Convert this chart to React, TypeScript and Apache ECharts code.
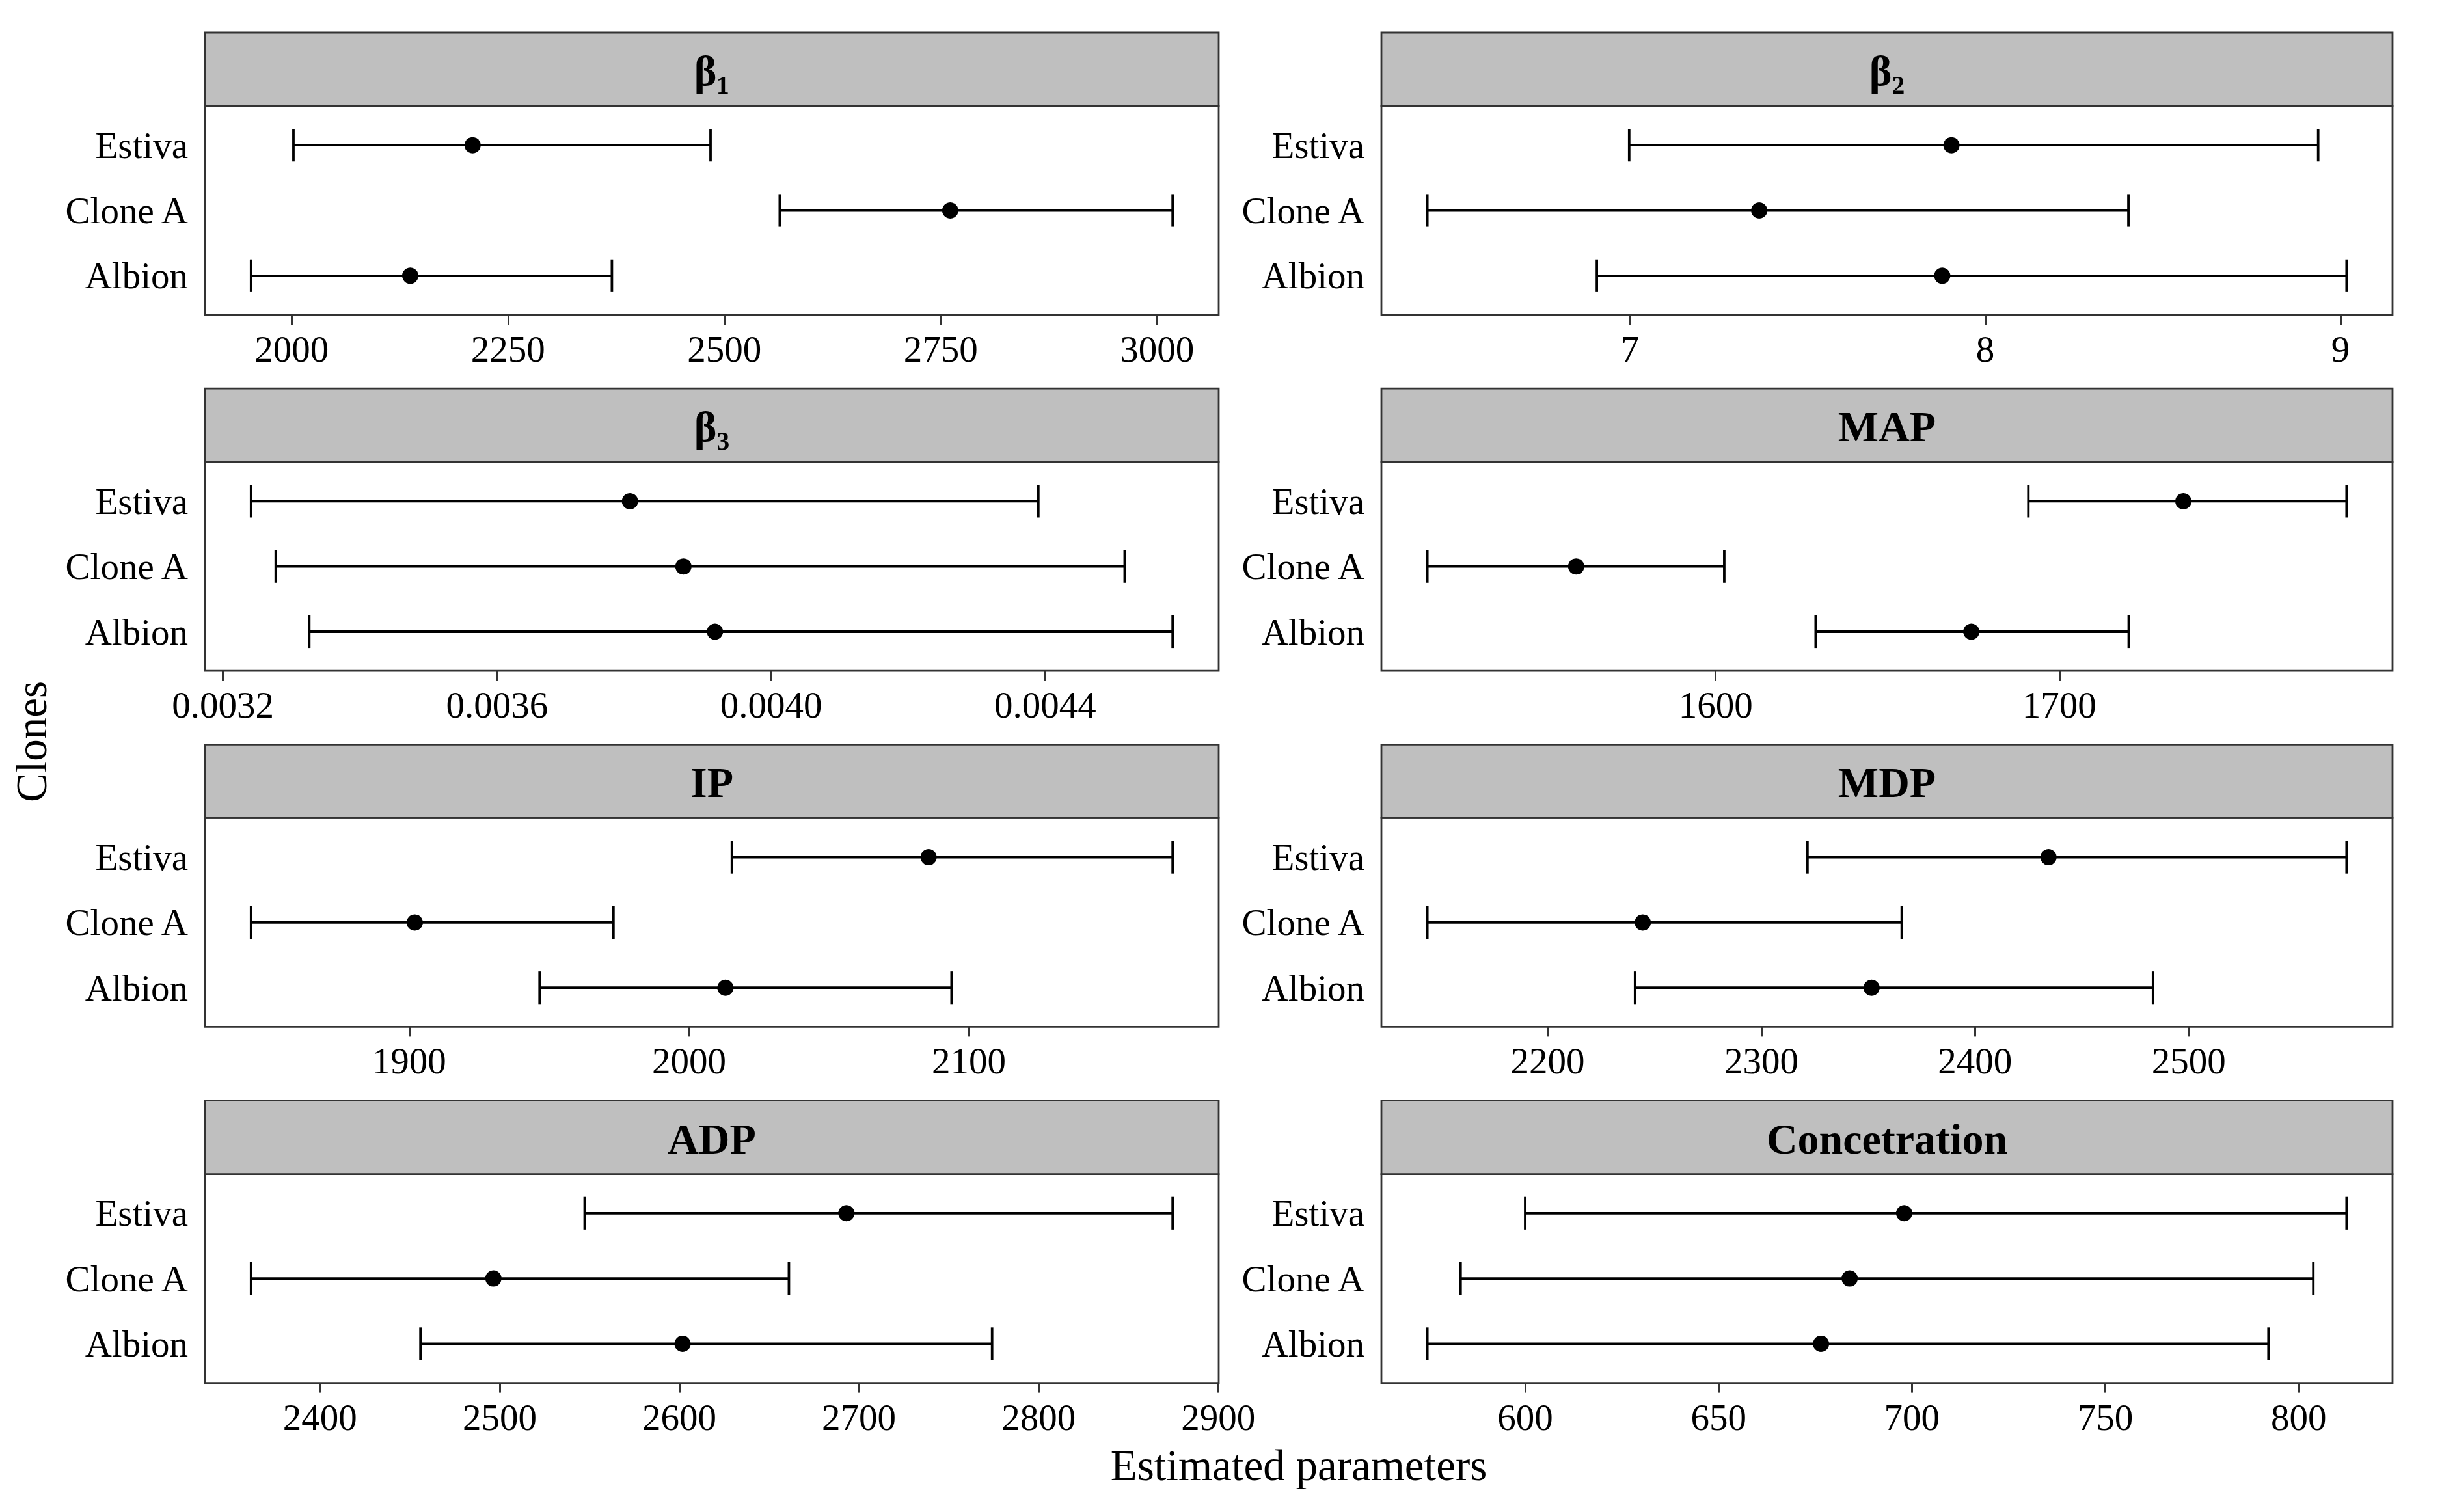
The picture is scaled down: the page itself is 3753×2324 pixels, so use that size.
import React, { useEffect, useRef } from 'react';
import * as echarts from 'echarts';

// ---------- data ----------
const clones = ['Estiva', 'Clone A', 'Albion'];
const panelTitles = ['β₁', 'β₂', 'β₃', 'MAP', 'IP', 'MDP', 'ADP', 'Concetration'];

// order of values: Estiva, Clone A, Albion
const beta1Lower = [2002, 2564, 1953];
const beta1Estimate = [2209, 2761, 2137];
const beta1Upper = [2484, 3018, 2370];

const beta2Lower = [6.998, 6.43, 6.907];
const beta2Estimate = [7.905, 7.364, 7.879];
const beta2Upper = [8.937, 8.403, 9.017];

const beta3Lower = [0.003241, 0.003277, 0.003326];
const beta3Estimate = [0.003794, 0.003872, 0.003918];
const beta3Upper = [0.00439, 0.004516, 0.004586];

const mapLower = [1691.0, 1516.1, 1629.1];
const mapEstimate = [1736.1, 1559.4, 1674.4];
const mapUpper = [1783.6, 1602.5, 1720.2];

const ipLower = [2015.3, 1843.5, 1946.6];
const ipEstimate = [2085.6, 1902, 2013];
const ipUpper = [2172.8, 1973, 2093.8];

const mdpLower = [2321.6, 2143.7, 2240.9];
const mdpEstimate = [2434.4, 2244.5, 2351.6];
const mdpUpper = [2573.9, 2365.7, 2483.3];

const adpLower = [2547.3, 2361.6, 2455.9];
const adpEstimate = [2693, 2496.5, 2601.8];
const adpUpper = [2874.6, 2661, 2774.1];

const concLower = [600, 583.3, 574.7];
const concEstimate = [698, 683.9, 676.5];
const concUpper = [812.4, 803.8, 792.2];

// tick values and labels
const beta1Ticks = [2000, 2250, 2500, 2750, 3000];
const beta1TickLabels = ['2000', '2250', '2500', '2750', '3000'];
const beta2Ticks = [7, 8, 9];
const beta2TickLabels = ['7', '8', '9'];
const beta3Ticks = [0.0032, 0.0036, 0.004, 0.0044];
const beta3TickLabels = ['0.0032', '0.0036', '0.0040', '0.0044'];
const mapTicks = [1600, 1700];
const mapTickLabels = ['1600', '1700'];
const ipTicks = [1900, 2000, 2100];
const ipTickLabels = ['1900', '2000', '2100'];
const mdpTicks = [2200, 2300, 2400, 2500];
const mdpTickLabels = ['2200', '2300', '2400', '2500'];
const adpTicks = [2400, 2500, 2600, 2700, 2800, 2900];
const adpTickLabels = ['2400', '2500', '2600', '2700', '2800', '2900'];
const concTicks = [600, 650, 700, 750, 800];
const concTickLabels = ['600', '650', '700', '750', '800'];

const xTitle = 'Estimated parameters';
const yTitle = 'Clones';

// ---------- layout ----------
const W = 3753;
const H = 2324;
const FONT = '"Liberation Serif", "Times New Roman", serif';
const colLeft = [315, 2123];
const colWidth = [1558, 1554];
const rowTop0 = 50;
const rowStep = 547.2;
const stripH = 113;
const plotH = 321;
const borderColor = '#333333';
const borderW = 2.8;

function buildOption() {
  const panels = [
    { lower: beta1Lower, est: beta1Estimate, upper: beta1Upper, ticks: beta1Ticks, labels: beta1TickLabels },
    { lower: beta2Lower, est: beta2Estimate, upper: beta2Upper, ticks: beta2Ticks, labels: beta2TickLabels },
    { lower: beta3Lower, est: beta3Estimate, upper: beta3Upper, ticks: beta3Ticks, labels: beta3TickLabels },
    { lower: mapLower, est: mapEstimate, upper: mapUpper, ticks: mapTicks, labels: mapTickLabels },
    { lower: ipLower, est: ipEstimate, upper: ipUpper, ticks: ipTicks, labels: ipTickLabels },
    { lower: mdpLower, est: mdpEstimate, upper: mdpUpper, ticks: mdpTicks, labels: mdpTickLabels },
    { lower: adpLower, est: adpEstimate, upper: adpUpper, ticks: adpTicks, labels: adpTickLabels },
    { lower: concLower, est: concEstimate, upper: concUpper, ticks: concTicks, labels: concTickLabels },
  ];

  const grids: any[] = [];
  const xAxes: any[] = [];
  const yAxes: any[] = [];
  const series: any[] = [];
  const graphics: any[] = [];

  panels.forEach((p, i) => {
    const col = i % 2;
    const row = Math.floor(i / 2);
    const left = colLeft[col];
    const width = colWidth[col];
    const rowTop = rowTop0 + row * rowStep;
    const top = rowTop + stripH;

    grids.push({
      left,
      top,
      width,
      height: plotH,
      show: true,
      backgroundColor: '#ffffff',
      borderColor,
      borderWidth: borderW,
    });

    const dMin = Math.min(...p.lower);
    const dMax = Math.max(...p.upper);
    const pad = (dMax - dMin) * 0.05;

    xAxes.push({
      type: 'value',
      gridIndex: i,
      min: dMin - pad,
      max: dMax + pad,
      axisLine: { show: false },
      splitLine: { show: false },
      axisTick: {
        show: true,
        customValues: p.ticks,
        length: 15,
        lineStyle: { color: borderColor, width: 3 },
      },
      axisLabel: {
        show: true,
        customValues: p.ticks,
        formatter: (v: number) => {
          const k = p.ticks.findIndex((t) => Math.abs(t - v) < 1e-9);
          return k >= 0 ? p.labels[k] : '';
        },
        fontFamily: FONT,
        fontSize: 57,
        color: '#000000',
        margin: 24,
      },
    });

    yAxes.push({
      type: 'value',
      gridIndex: i,
      min: 0.4,
      max: clones.length + 0.6,
      axisLine: { show: false },
      splitLine: { show: false },
      axisTick: { show: false },
      axisLabel: {
        show: true,
        customValues: clones.map((_, k) => clones.length - k),
        formatter: (v: number) => clones[clones.length - Math.round(v)] ?? '',
        fontFamily: FONT,
        fontSize: 57,
        color: '#000000',
        margin: 26,
      },
    });

    series.push({
      type: 'custom',
      xAxisIndex: i,
      yAxisIndex: i,
      encode: { x: [0, 1], y: 2 },
      data: clones.map((_, k) => [p.lower[k], p.upper[k], clones.length - k]),
      renderItem: (params: any, api: any) => {
        const y = api.value(2);
        const a = api.coord([api.value(0), y]);
        const b = api.coord([api.value(1), y]);
        const h = api.size([0, 0.5])[1] / 2;
        const st = { stroke: '#000000', lineWidth: 3.8 };
        return {
          type: 'group',
          children: [
            { type: 'line', shape: { x1: a[0], y1: a[1], x2: b[0], y2: b[1] }, style: st },
            { type: 'line', shape: { x1: a[0], y1: a[1] - h, x2: a[0], y2: a[1] + h }, style: st },
            { type: 'line', shape: { x1: b[0], y1: b[1] - h, x2: b[0], y2: b[1] + h }, style: st },
          ],
        };
      },
      z: 2,
    });

    series.push({
      type: 'scatter',
      xAxisIndex: i,
      yAxisIndex: i,
      data: clones.map((_, k) => [p.est[k], clones.length - k]),
      symbol: 'circle',
      symbolSize: 25,
      itemStyle: { color: '#000000', opacity: 1 },
      z: 3,
    });

    // strip
    graphics.push({
      type: 'rect',
      shape: { x: left, y: rowTop, width, height: stripH },
      style: { fill: '#BFBFBF', stroke: borderColor, lineWidth: borderW },
      z: 10,
    });
    graphics.push({
      type: 'text',
      x: left + width / 2,
      y: rowTop + stripH / 2 + 2,
      style: {
        text: panelTitles[i],
        fontFamily: FONT,
        fontSize: 66,
        fontWeight: 'bold',
        fill: '#000000',
        align: 'center',
        verticalAlign: 'middle',
      },
      z: 11,
    });
  });

  graphics.push({
    type: 'text',
    x: (colLeft[0] + colLeft[1] + colWidth[1]) / 2,
    y: 2252,
    style: {
      text: xTitle,
      fontFamily: FONT,
      fontSize: 67,
      fill: '#000000',
      align: 'center',
      verticalAlign: 'middle',
    },
  });
  graphics.push({
    type: 'text',
    x: 48,
    y: 1140,
    rotation: Math.PI / 2,
    style: {
      text: yTitle,
      fontFamily: FONT,
      fontSize: 67,
      fill: '#000000',
      align: 'center',
      verticalAlign: 'middle',
    },
  });

  return {
    animation: false,
    backgroundColor: '#ffffff',
    grid: grids,
    xAxis: xAxes,
    yAxis: yAxes,
    series,
    graphic: graphics,
  };
}

export default function App() {
  const ref = useRef<HTMLDivElement>(null);
  useEffect(() => {
    if (!ref.current) return;
    const chart = echarts.init(ref.current, undefined, { renderer: 'svg' });
    chart.setOption(buildOption() as any);
    return () => chart.dispose();
  }, []);
  return (
    <div
      ref={ref}
      style={{ position: 'fixed', left: 0, top: 0, width: W, height: H, background: '#fff' }}
    />
  );
}
